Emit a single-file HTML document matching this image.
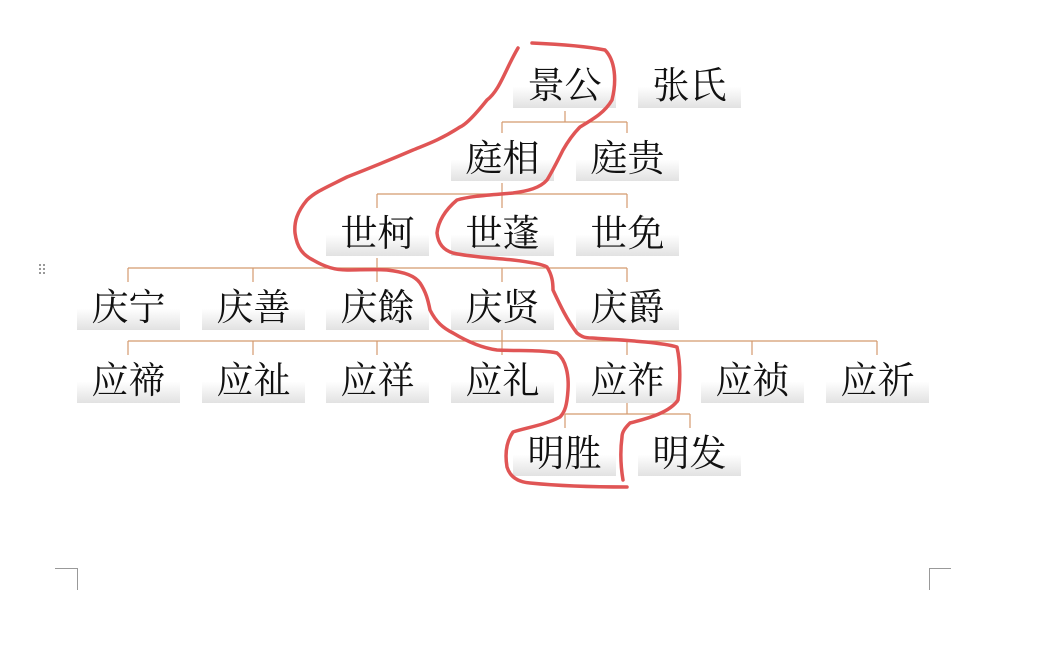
<!DOCTYPE html>
<html><head><meta charset="utf-8"><style>
html,body{margin:0;padding:0;background:#fff;}
body{width:1061px;height:648px;position:relative;overflow:hidden;}
.b{position:absolute;width:103px;height:48px;background:linear-gradient(#fff 0%,#fff 55%,#e2e2e2 100%);font-family:"Liberation Serif","Noto Serif CJK SC",serif;font-size:37px;line-height:54px;text-align:center;color:#111;}
svg{position:absolute;left:0;top:0;}
</style></head><body>
<svg width="1061" height="648">
<g stroke="#d49a6e" stroke-width="1.2" fill="none">
<path d="M565 111V122M502 122H627M502 122V133M627 122V133"/>
<path d="M502 183V194M377 194H627M377 194V208M502 194V208M627 194V208"/>
<path d="M377 258V268M128 268H627M128 268V282M253 268V282M377 268V282M502 268V282M627 268V282"/>
<path d="M502 330V341M128 341H877M128 341V355M253 341V355M377 341V355M502 341V355M627 341V355M752 341V355M877 341V355"/>
<path d="M627 403V414M565 414H690M565 414V428M690 414V428"/>
</g>
</svg>
<div class="b" style="left:513px;top:60px">景公</div>
<div class="b" style="left:638px;top:60px">张氏</div>
<div class="b" style="left:451px;top:133px">庭相</div>
<div class="b" style="left:576px;top:133px">庭贵</div>
<div class="b" style="left:326px;top:208px">世柯</div>
<div class="b" style="left:451px;top:208px">世蓬</div>
<div class="b" style="left:576px;top:208px">世免</div>
<div class="b" style="left:77px;top:282px">庆宁</div>
<div class="b" style="left:202px;top:282px">庆善</div>
<div class="b" style="left:326px;top:282px">庆餘</div>
<div class="b" style="left:451px;top:282px">庆贤</div>
<div class="b" style="left:576px;top:282px">庆爵</div>
<div class="b" style="left:77px;top:355px">应禘</div>
<div class="b" style="left:202px;top:355px">应祉</div>
<div class="b" style="left:326px;top:355px">应祥</div>
<div class="b" style="left:451px;top:355px">应礼</div>
<div class="b" style="left:576px;top:355px">应祚</div>
<div class="b" style="left:701px;top:355px">应祯</div>
<div class="b" style="left:826px;top:355px">应祈</div>
<div class="b" style="left:513px;top:428px">明胜</div>
<div class="b" style="left:638px;top:428px">明发</div>
<svg width="1061" height="648">
<g stroke="#e05555" stroke-width="3.5" fill="none" stroke-linecap="round" stroke-linejoin="round">
<path d="M518 48 C505 70 500 90 487 100 C475 115 465 125 460 127 C440 140 425 145 413 150 C385 162 365 170 347 177 C325 188 315 192 307 200 C297 212 294 222 295 233 C297 248 303 255 313 260 C325 267 335 270 347 270 C360 270 375 269 387 270 C405 272 415 276 420 283 C426 292 428 300 430 310 C436 322 443 328 453 333 C468 342 482 348 497 350 C520 351 545 350 557 353 C566 360 569 375 568 390 C567 405 565 412 560 417 C545 425 525 428 513 432 C506 442 505 455 507 467 C510 477 518 482 530 483 C560 486 600 487 627 487"/>
<path d="M532 43 C555 44 585 46 605 50 C615 60 617 80 612 100 C605 112 595 118 580 127 C572 135 567 143 563 150 C557 162 552 172 547 180 C540 188 528 191 513 193 C490 195 470 196 457 200 C445 210 438 222 437 233 C438 243 443 250 453 253 C470 257 495 258 513 260 C530 262 542 264 547 267 C552 275 553 282 553 290 C560 305 567 320 577 333 C582 337 585 338 592 338 C620 340 660 342 677 347 C681 365 680 385 678 400 C670 412 650 418 630 423 C625 428 622 432 622 437 C620 452 621 468 623 480"/>
</g>
<g stroke="#999" stroke-width="1" fill="none">
<path d="M55 568.5H77.5V590"/>
<path d="M951 568.5H929.5V590"/>
</g>
<g fill="#999">
<rect x="39" y="264" width="2" height="2"/><rect x="43" y="264" width="2" height="2"/>
<rect x="39" y="268" width="2" height="2"/><rect x="43" y="268" width="2" height="2"/>
<rect x="39" y="272" width="2" height="2"/><rect x="43" y="272" width="2" height="2"/>
</g>
</svg>
</body></html>
